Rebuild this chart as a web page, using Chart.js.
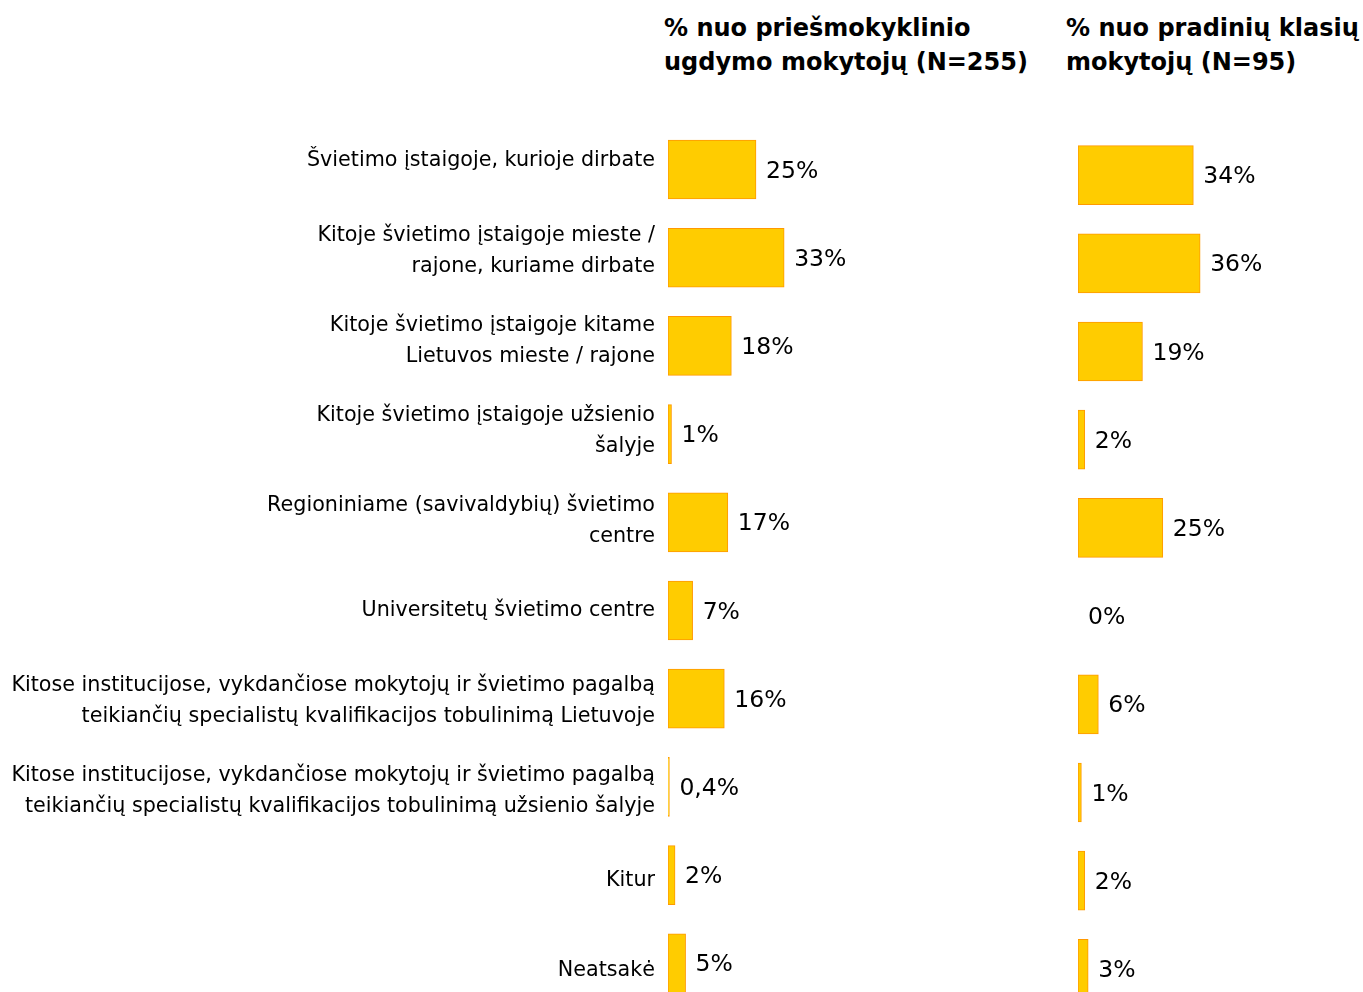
<!DOCTYPE html>
<html lang="lt">
<head>
    <meta charset="UTF-8">
    <title>Kvalifikacijos tobulinimo vieta</title>
    <script src="https://cdn.jsdelivr.net/npm/chart.js"></script>
    <style>
        body {
            margin: 0;
            padding: 0;
            width: 1363px;
            height: 992px;
            overflow: hidden;
            background: #fff;
            font-family: "DejaVu Sans", sans-serif;
        }
        .head {
            position: absolute;
            top: 11px;
            font-family: "DejaVu Sans", sans-serif;
            font-weight: bold;
            font-size: 24px;
            line-height: 34px;
            color: #000;
            white-space: nowrap;
        }
        .box {
            position: absolute;
            top: 0;
        }
    </style>
</head>
<body>
    <div class="head" style="left:664px">% nuo priešmokyklinio<br>ugdymo mokytojų (N=255)</div>
    <div class="head" style="left:1066px">% nuo pradinių klasių<br>mokytojų (N=95)</div>

    <div class="box" style="left:0; width:1040px; height:1044px"><canvas id="leftChart"></canvas></div>
    <div class="box" style="left:1040px; width:323px; height:1015px"><canvas id="rightChart"></canvas></div>

    <script>
        const categories = [
            'Švietimo įstaigoje, kurioje dirbate',
            ['Kitoje švietimo įstaigoje mieste /', 'rajone, kuriame dirbate'],
            ['Kitoje švietimo įstaigoje kitame', 'Lietuvos mieste / rajone'],
            ['Kitoje švietimo įstaigoje užsienio', 'šalyje'],
            ['Regioniniame (savivaldybių) švietimo', 'centre'],
            'Universitetų švietimo centre',
            ['Kitose institucijose, vykdančiose mokytojų ir švietimo pagalbą', 'teikiančių specialistų kvalifikacijos tobulinimą Lietuvoje'],
            ['Kitose institucijose, vykdančiose mokytojų ir švietimo pagalbą', 'teikiančių specialistų kvalifikacijos tobulinimą užsienio šalyje'],
            'Kitur',
            'Neatsakė'
        ];
        const preschoolValues = [25, 33, 18, 1, 17, 7, 16, 0.4, 2, 5];
        const primaryValues = [34, 36, 19, 2, 25, 0, 6, 1, 2, 3];

        const fontFamily = '"DejaVu Sans", sans-serif';

        // value labels next to each bar
        const valueLabels = {
            id: 'valueLabels',
            afterDatasetsDraw(chart) {
                const ctx = chart.ctx;
                ctx.save();
                ctx.font = '23.5px ' + fontFamily;
                ctx.fillStyle = '#000';
                ctx.textBaseline = 'middle';
                ctx.textAlign = 'left';
                chart.getDatasetMeta(0).data.forEach((bar, i) => {
                    const raw = chart.data.datasets[0].data[i];
                    const v = typeof raw === 'object' ? raw.x : raw;
                    ctx.fillText(String(v).replace('.', ',') + '%', bar.x + 10, bar.y + 2);
                });
                ctx.restore();
            }
        };

        const barStyle = {
            backgroundColor: '#FFCC00',
            borderColor: '#FF9900',
            borderWidth: 1,
            borderSkipped: false,
            barThickness: 59
        };

        new Chart(document.getElementById('leftChart'), {
            type: 'bar',
            data: {
                labels: categories,
                datasets: [Object.assign({
                    data: preschoolValues.map((v, i) => ({ x: v, y: i })),
                    yAxisID: 'yb'
                }, barStyle)]
            },
            options: {
                indexAxis: 'y',
                responsive: true,
                maintainAspectRatio: false,
                animation: false,
                layout: { padding: { top: 116, bottom: 3, right: 20, left: 0 } },
                plugins: { legend: { display: false }, tooltip: { enabled: false } },
                scales: {
                    x: { type: 'linear', min: 0, max: 100, display: false },
                    y: {
                        type: 'category',
                        position: 'left',
                        offset: true,
                        grid: { display: false, drawTicks: false },
                        border: { display: false },
                        ticks: {
                            padding: 13,
                            color: '#000',
                            font: { family: fontFamily, size: 20.7, lineHeight: 1.4976 }
                        },
                        afterFit: s => { s.width = 668; }
                    },
                    yb: { type: 'linear', reverse: true, offset: false, min: -0.607, max: 9.592, display: false }
                }
            },
            plugins: [valueLabels]
        });

        new Chart(document.getElementById('rightChart'), {
            type: 'bar',
            data: {
                labels: categories,
                datasets: [Object.assign({ data: primaryValues }, barStyle)]
            },
            options: {
                indexAxis: 'y',
                responsive: true,
                maintainAspectRatio: false,
                animation: false,
                layout: { padding: { top: 131, bottom: 2, left: 38, right: 0 } },
                plugins: { legend: { display: false }, tooltip: { enabled: false } },
                scales: {
                    x: { min: 0, max: 84, display: false },
                    y: { display: false, offset: true }
                }
            },
            plugins: [valueLabels]
        });
    </script>
</body>
</html>
